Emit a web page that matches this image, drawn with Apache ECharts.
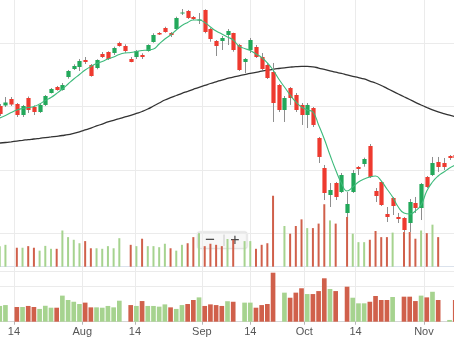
<!DOCTYPE html>
<html><head><meta charset="utf-8">
<script src="https://cdn.jsdelivr.net/npm/echarts@6/dist/echarts.min.js"></script>
<style>html,body{margin:0;padding:0;background:#fff}#c{width:454px;height:341px}</style>
</head><body><div id="c"></div>
<script>
// Daily sessions (first and last ones are only partly visible at the edges)
const opens = [50.08,50.16,51.18,50.39,48.66,51.34,49.92,49.13,50.24,52.12,53.07,52.60,54.64,55.90,56.22,57.32,56.53,56.06,58.27,58.58,58.42,60.00,59.53,57.48,57.79,58.11,58.74,60.16,61.57,62.36,61.57,62.20,64.69,65.04,64.09,63.54,65.20,62.20,60.31,60.31,61.26,61.57,59.68,57.01,58.90,59.37,57.79,56.53,55.43,53.38,49.45,52.91,51.81,50.24,48.66,49.76,45.04,40.31,36.06,37.95,36.53,33.23,36.53,40.47,40.94,43.78,36.69,38.11,33.07,35.59,32.60,32.44,31.65,34.80,34.01,38.90,39.21,41.26,41.10,42.20,42.36];
const closes = [48.82,50.63,50.31,48.66,50.08,49.45,49.13,50.24,51.65,52.75,52.60,53.38,55.59,56.38,57.16,57.01,54.80,57.32,57.79,57.48,59.21,59.53,58.74,57.01,58.74,57.79,59.68,61.26,61.34,61.73,61.26,63.94,64.80,63.94,63.78,63.70,61.73,60.63,59.53,60.79,61.89,58.90,55.75,57.48,60.47,57.79,55.90,54.49,50.55,49.45,51.34,51.34,49.45,48.66,50.24,47.09,42.05,36.38,36.85,35.75,39.21,34.64,39.53,40.16,41.73,38.90,35.90,34.49,32.60,34.33,32.28,30.55,34.96,34.01,37.79,37.32,41.10,40.47,40.47,41.89,41.89];
const lows = [48.50,49.92,50.08,48.35,48.35,48.98,48.66,48.98,50.08,52.05,52.49,52.49,54.38,55.75,55.59,56.69,54.69,55.86,57.64,57.32,58.11,59.42,58.47,56.96,57.48,57.48,58.63,60.05,61.26,61.62,60.94,62.05,64.41,63.78,63.62,62.99,61.53,60.20,57.95,58.90,59.68,58.63,55.59,55.27,58.42,57.64,55.75,54.33,47.56,49.13,47.56,50.24,49.13,47.09,46.61,46.77,41.10,35.27,34.17,35.27,36.38,32.60,36.38,39.21,40.52,38.74,34.96,34.33,31.81,32.91,31.65,30.23,30.23,33.23,32.12,37.16,39.05,39.68,40.00,41.57,41.73];
const highs = [50.39,51.49,51.49,50.55,50.24,51.57,50.16,50.39,51.81,52.91,53.23,53.70,55.75,56.64,57.48,57.79,56.69,57.43,58.58,58.69,59.42,60.20,59.79,57.79,58.90,58.38,59.79,61.53,61.73,62.56,61.73,64.14,65.35,65.20,64.25,64.72,65.31,62.36,60.47,61.10,62.20,61.62,59.84,57.64,60.79,59.68,58.42,56.85,56.85,53.54,51.65,53.07,52.12,50.55,50.55,49.92,45.20,40.79,37.95,38.11,39.53,36.53,40.00,40.63,41.94,44.09,37.16,38.27,34.17,35.75,33.23,32.60,35.43,35.75,37.95,39.05,42.05,42.05,41.89,42.36,42.52];
// Moving averages
const maShort = [48.19,48.58,49.05,49.45,49.68,49.84,50.00,50.39,50.94,51.42,52.05,52.75,53.54,54.33,55.04,55.75,56.30,56.77,57.09,57.48,57.79,58.19,58.42,58.50,58.66,58.82,58.90,59.05,59.84,60.63,61.26,62.05,62.75,63.23,63.62,63.62,63.23,62.52,61.89,61.42,60.94,60.47,59.53,59.13,58.82,58.27,57.72,56.85,55.75,54.33,53.07,51.81,50.71,49.92,49.45,49.13,47.09,44.88,42.36,40.00,37.95,36.69,37.32,38.11,38.58,38.90,39.05,38.27,37.01,35.75,34.17,33.23,33.07,33.54,34.49,36.69,38.11,39.05,39.68,40.31,40.79];
const maLong = [44.25,44.33,44.44,44.56,44.67,44.79,44.88,44.99,45.10,45.20,45.31,45.43,45.57,45.78,46.01,46.30,46.61,46.93,47.24,47.56,47.83,48.09,48.35,48.61,48.90,49.21,49.60,50.08,50.55,51.02,51.38,51.73,52.08,52.39,52.71,53.02,53.31,53.62,53.89,54.17,54.41,54.64,54.83,55.02,55.21,55.38,55.56,55.72,55.86,55.98,56.09,56.19,56.27,56.31,56.31,56.25,56.06,55.84,55.62,55.40,55.20,54.96,54.75,54.55,54.33,54.01,53.70,53.31,52.86,52.41,51.97,51.53,51.10,50.66,50.23,49.84,49.48,49.16,48.88,48.63,48.38];
// Volume (millions), '-' = no volume reported; volUp: 1 = up day, 0 = down day
const volumes = [9.0,9.5,'-',8.4,8.4,9.0,8.4,7.3,9.1,8.0,8.0,14.9,12.4,11.4,10.1,10.9,8.2,8.2,8.0,9.0,8.2,12.0,'-',9.5,9.0,11.8,9.0,9.0,8.6,9.9,8.2,7.3,9.5,10.1,12.4,13.9,9.0,9.9,9.5,9.0,11.7,11.4,'-',10.9,10.9,8.0,9.5,10.1,28.0,'-',16.6,13.7,16.6,19.1,15.8,15.8,17.5,24.8,18.7,17.5,'-',20.0,13.7,10.5,10.5,11.4,14.7,12.4,12.4,14.1,'-',14.3,14.3,11.8,14.9,13.9,17.1,12.4,'-',1.0,12.4];
const volUp = [1,1,0,0,1,0,0,1,1,1,0,1,1,1,1,0,0,1,1,1,1,1,0,0,1,0,1,1,1,1,0,1,1,0,0,1,0,0,0,0,1,0,0,1,1,0,0,0,0,0,1,0,0,0,1,0,0,0,1,0,0,0,1,1,1,0,0,0,0,1,0,0,0,0,1,0,1,0,0,1,0];
// Axis tick labels and where they fall, in session-index units
const tickLabels = ['14','Aug','14','Sep','14','Oct','14','Nov'];
const tickAt = [2.5, 14.6, 23.75, 35.5, 44, 53.5, 62.5, 74.5];

const UP = '#22a85a', DOWN = '#ee3a2f', WICK = '#8e8e8e';
const VUP = '#a6d38f', VDOWN = '#d0604b';
const N = opens.length;
const sessions = opens.map((_, i) => String(i));
const candleData = opens.map((o, i) => [i, o, closes[i], lows[i], highs[i]]);
const volData = volumes.map((v, i) => v === '-' ? '-' : {value: v, itemStyle: {color: volUp[i] ? VUP : VDOWN}});

const RES = 4;
const tickByIndex = {};
tickAt.forEach((p, k) => { tickByIndex[Math.round((p + 0.5) * RES)] = tickLabels[k]; });
const fine = Array.from({length: N * RES + 1}, (_, j) => String(j));
const showTick = (idx) => Object.prototype.hasOwnProperty.call(tickByIndex, idx);

const L = -3.1, R = -4.1;
const GRID = '#ebebeb', SEP = '#dbe2ec';

const chart = echarts.init(document.getElementById('c'));
chart.setOption({
  animation: false,
  backgroundColor: '#fff',
  grid: [
    {left: L, right: R, top: -10, height: 276.7, outerBoundsMode: 'none'},
    {left: L, right: R, top: 166.7, height: 100, outerBoundsMode: 'none'},
    {left: L, right: R, top: 271.7, height: 50, outerBoundsMode: 'none'},
    {left: L, right: R, top: 0, height: 321.7, outerBoundsMode: 'none'}
  ],
  xAxis: [
    {type: 'category', gridIndex: 0, data: sessions, boundaryGap: true,
     axisLine: {show: true, lineStyle: {color: SEP}}, axisTick: {show: false}, axisLabel: {show: false}, splitLine: {show: false}},
    {type: 'category', gridIndex: 1, data: sessions, boundaryGap: true, show: false},
    {type: 'category', gridIndex: 2, data: sessions, boundaryGap: true, position: 'top',
     axisLine: {show: true, lineStyle: {color: SEP}}, axisTick: {show: false}, axisLabel: {show: false}, splitLine: {show: false}},
    {type: 'category', gridIndex: 3, data: fine, boundaryGap: false, position: 'bottom',
     axisLine: {show: true, lineStyle: {color: '#d6d6d6'}},
     axisTick: {show: true, interval: showTick, length: 3, lineStyle: {color: '#b5b5b5'}},
     axisLabel: {show: true, interval: showTick, margin: 5, color: '#555', fontSize: 11,
                 fontFamily: 'Liberation Sans, Arial, sans-serif',
                 formatter: (val) => tickByIndex[+val] || ''},
     splitLine: {show: true, interval: showTick, lineStyle: {color: GRID, width: 1}}}
  ],
  yAxis: [
    {type: 'value', gridIndex: 0, min: 24.77, max: 68.345, scale: true,
     axisLine: {show: false}, axisTick: {show: false}, axisLabel: {show: false},
     splitLine: {show: true, lineStyle: {color: GRID}}},
    {type: 'value', gridIndex: 1, min: 1.25, max: 38.95, show: false, splitLine: {show: false}},
    {type: 'value', gridIndex: 2, min: 0, max: 28.57, interval: 20,
     axisLine: {show: false}, axisTick: {show: false}, axisLabel: {show: false},
     splitLine: {show: true, lineStyle: {color: GRID}}},
    {type: 'value', gridIndex: 3, min: 0, max: 1, show: false, splitLine: {show: false}}
  ],
  series: [
    {type: 'bar', name: 'Volume overlay', xAxisIndex: 1, yAxisIndex: 1, data: volData, barWidth: 2, z: 1},
    {type: 'bar', name: 'Volume', xAxisIndex: 2, yAxisIndex: 2, data: volData, barWidth: '82%'},
    {type: 'line', name: 'MA long', xAxisIndex: 0, yAxisIndex: 0, data: maLong, smooth: true,
     showSymbol: false, symbol: 'none', lineStyle: {color: '#333', width: 1.3}, z: 3},
    {type: 'custom', name: 'Price', xAxisIndex: 0, yAxisIndex: 0, data: candleData,
     encode: {x: 0, y: [1, 2, 3, 4]}, z: 4,
     renderItem: function (params, api) {
       const i = api.value(0), o = api.value(1), c = api.value(2), lo = api.value(3), hi = api.value(4);
       const pO = api.coord([i, o]), pC = api.coord([i, c]), pL = api.coord([i, lo]), pH = api.coord([i, hi]);
       const w = api.size([1, 0])[0] * 0.74;
       const xc = Math.round(pO[0]) + 0.5;
       const top = Math.min(pO[1], pC[1]);
       const h = Math.max(1, Math.abs(pO[1] - pC[1]));
       return {type: 'group', children: [
         {type: 'line', shape: {x1: xc, y1: pH[1], x2: xc, y2: pL[1]}, style: {stroke: WICK, lineWidth: 1}},
         {type: 'rect', shape: {x: xc - w / 2, y: top, width: w, height: h}, style: {fill: c >= o ? UP : DOWN}}
       ]};
     }},
    {type: 'line', name: 'MA short', xAxisIndex: 0, yAxisIndex: 0, data: maShort, smooth: true,
     showSymbol: false, symbol: 'none', lineStyle: {color: '#3dba7b', width: 1.1}, z: 5}
  ],
  graphic: [
    {type: 'group', left: 197, top: 231.5, z: 100, children: [
      {type: 'rect', shape: {x: 0, y: 0, width: 49.5, height: 16.5, r: 2},
       style: {fill: 'rgba(248,248,248,0.96)', stroke: '#e2e2e2', lineWidth: 1, shadowBlur: 2, shadowColor: 'rgba(0,0,0,0.10)'}},
      {type: 'text', x: 12.5, y: 8.5, style: {text: '−', fill: '#444', fontSize: 17, fontFamily: 'Liberation Sans, Arial, sans-serif', textAlign: 'center', textVerticalAlign: 'middle'}},
      {type: 'line', shape: {x1: 26.5, y1: 2.5, x2: 26.5, y2: 14}, style: {stroke: '#c8c8c8', lineWidth: 1}},
      {type: 'text', x: 37.5, y: 8.5, style: {text: '+', fill: '#444', fontSize: 16, fontFamily: 'Liberation Sans, Arial, sans-serif', textAlign: 'center', textVerticalAlign: 'middle'}}
    ]}
  ]
});
</script>
</body></html>
